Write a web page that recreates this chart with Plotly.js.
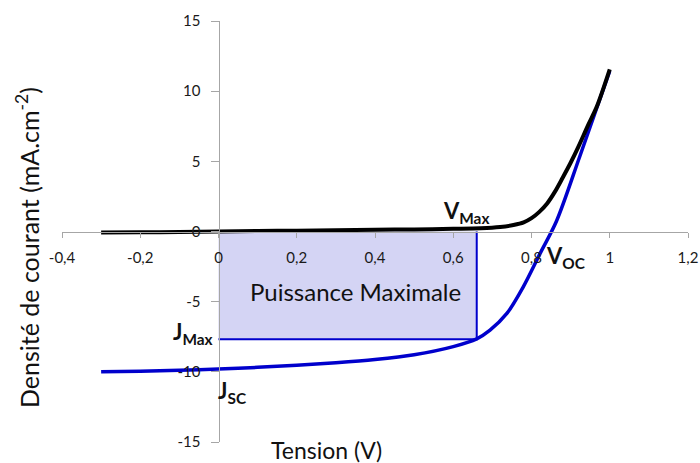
<!DOCTYPE html>
<html>
<head>
<meta charset="utf-8">
<script src="https://cdn.plot.ly/plotly-3.0.1.min.js"></script>
<style>html,body{margin:0;padding:0;background:#fff;}#chart{width:700px;height:463px;}</style>
</head>
<body>
<div id="chart"></div>
<script>
// Dark-curve (black) J-V data
const darkV = [-0.3, -0.2, -0.1, 0, 0.1, 0.2, 0.3, 0.4, 0.5, 0.6, 0.67, 0.72, 0.754, 0.78, 0.8, 0.82, 0.84, 0.86, 0.88, 0.9, 0.92, 0.945, 0.967, 1.0];
const darkJ = [-0.08, -0.06, -0.03, 0, 0.03, 0.06, 0.09, 0.12, 0.15, 0.19, 0.23, 0.32, 0.46, 0.65, 0.95, 1.4, 2.0, 2.84, 3.85, 4.9, 6.05, 7.6, 8.9, 11.55];
// Illuminated curve (blue) J-V data
const lightV = [-0.3, -0.2, -0.1, 0, 0.1, 0.2, 0.3, 0.4, 0.5, 0.6, 0.66, 0.694, 0.737, 0.779, 0.822, 0.864, 0.924, 1.0];
const lightJ = [-10.0, -9.95, -9.88, -9.8, -9.68, -9.53, -9.35, -9.12, -8.78, -8.2, -7.65, -7.03, -5.84, -3.94, -1.56, 0.75, 5.4, 11.45];
// Maximum power point
const vMax = 0.66;
const jMax = -7.68;
// Tick values and labels
const xTickVals = [-0.4, -0.2, 0, 0.2, 0.4, 0.6, 0.8, 1, 1.2];
const xTickText = ["-0,4", "-0,2", "0", "0,2", "0,4", "0,6", "0,8", "1", "1,2"];
const yTickVals = [-15, -10, -5, 0, 5, 10, 15];
const yTickText = ["-15", "-10", "-5", "0", "5", "10", "15"];

const BLUE = '#0000CC';
const FONT = 'Lato, "Open Sans", sans-serif';

const traces = [
  { x: [0, vMax, vMax, 0, 0], y: [0, 0, jMax, jMax, 0], mode: 'lines', fill: 'toself',
    fillcolor: '#D4D4F4', line: {width: 0}, hoverinfo: 'skip' },
  { x: [0, vMax, vMax], y: [jMax, jMax, 0], mode: 'lines', line: {color: BLUE, width: 2} },
  { x: lightV, y: lightJ, mode: 'lines', line: {color: BLUE, width: 3.5, shape: 'spline', smoothing: 0.9} },
  { x: darkV, y: darkJ, mode: 'lines', line: {color: '#000000', width: 4, shape: 'spline', smoothing: 0.9} }
];

const axisCommon = {
  showgrid: false, zeroline: false, showline: true, linecolor: '#A6A6A6', linewidth: 1,
  ticks: 'outside', tickcolor: '#A6A6A6', ticklen: 5, tickwidth: 1,
  tickfont: {family: FONT, size: 15, color: '#1a1a1a'}, tickmode: 'array', fixedrange: true
};

const layout = {
  width: 700, height: 463,
  margin: {l: 62, r: 12, t: 21, b: 21, pad: 0},
  paper_bgcolor: '#fff', plot_bgcolor: '#fff',
  showlegend: false,
  xaxis: Object.assign({}, axisCommon, {
    range: [-0.4, 1.2], tickvals: xTickVals, ticktext: xTickText,
    anchor: 'free', position: 0.5, ticklabelstandoff: 7
  }),
  yaxis: Object.assign({}, axisCommon, {
    range: [-15, 15], tickvals: yTickVals, ticktext: yTickText,
    anchor: 'free', position: 0.25, ticklen: 8, ticklabelstandoff: 7
  }),
  annotations: [
    {xref: 'paper', yref: 'paper', x: -0.0559, y: 0.4608, text: 'Densité de courant (mA.cm<sup>-2</sup>)',
     textangle: -90, showarrow: false, xanchor: 'center', yanchor: 'middle',
     font: {family: FONT, size: 25, color: '#111'}},
    {xref: 'paper', yref: 'paper', x: 0.4218, y: -0.019, text: 'Tension (V)', showarrow: false,
     xanchor: 'center', yanchor: 'middle', font: {family: FONT, size: 23, color: '#111'}},
    {x: 0.349, y: -4.3, text: 'Puissance Maximale', showarrow: false, xanchor: 'center', yanchor: 'middle',
     font: {family: FONT, size: 24, color: '#111'}},
    {x: 0.633, y: 1.39, text: '<b>V<sub>Max</sub></b>', showarrow: false, xanchor: 'center', yanchor: 'middle',
     font: {family: FONT, size: 22, color: '#111'}},
    {x: -0.064, y: -7.25, text: '<b>J<sub>Max</sub></b>', showarrow: false, xanchor: 'center', yanchor: 'middle',
     font: {family: FONT, size: 22, color: '#111'}},
    {x: 0.035, y: -11.46, text: '<b>J<sub>SC</sub></b>', showarrow: false, xanchor: 'center', yanchor: 'middle',
     font: {family: FONT, size: 22, color: '#111'}},
    {x: 0.886, y: -1.82, text: '<b>V<sub>OC</sub></b>', showarrow: false, xanchor: 'center', yanchor: 'middle',
     font: {family: FONT, size: 22, color: '#111'}}
  ]
};

Plotly.newPlot('chart', traces, layout, {displayModeBar: false, staticPlot: true});
</script>
</body>
</html>
